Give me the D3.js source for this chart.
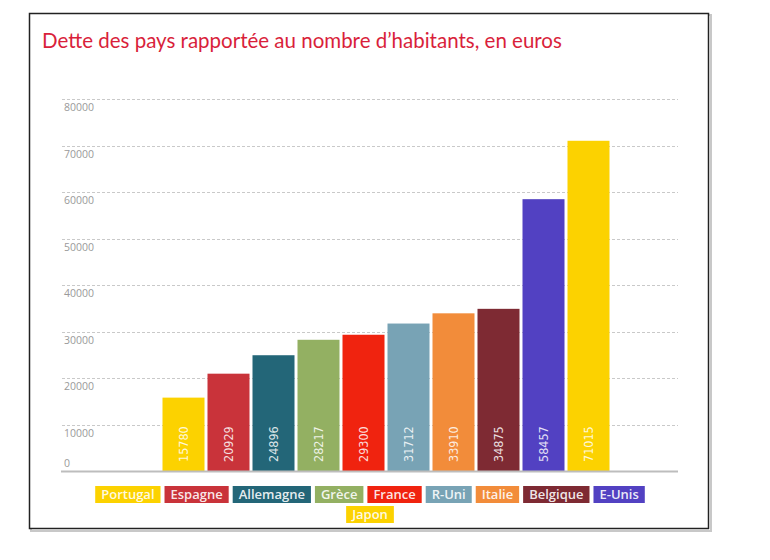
<!DOCTYPE html>
<html>
<head>
<meta charset="utf-8">
<script src="https://cdn.jsdelivr.net/npm/d3@7"></script>
<style>
  body { margin: 0; background: #fff; }
  svg { display: block; }
</style>
</head>
<body>
<svg id="chart" width="770" height="560"></svg>
<script>
// data
const countries = ['Portugal', 'Espagne', 'Allemagne', 'Grèce', 'France', 'R-Uni', 'Italie', 'Belgique', 'E-Unis', 'Japon'];
const debtPerHead = [15780, 20929, 24896, 28217, 29300, 31712, 33910, 34875, 58457, 71015];
const barColors = ['#fcd200', '#c9333a', '#236678', '#93b062', '#f0230f', '#78a3b5', '#f28c3a', '#7e2a33', '#5241c2', '#fcd200'];
const yTicks = [0, 10000, 20000, 30000, 40000, 50000, 60000, 70000, 80000];
const title = 'Dette des pays rapportée au nombre d\u2019habitants, en euros';

const svg = d3.select('#chart');

const rows = countries.map((c, i) => ({ name: c, value: debtPerHead[i], color: barColors[i] }));

// frame
svg.append('rect')
  .attr('x', 31).attr('y', 15).attr('width', 680).attr('height', 516)
  .attr('fill', 'none').attr('stroke', '#c8c8c8').attr('stroke-width', 2);
svg.append('rect')
  .attr('x', 29.5).attr('y', 13.5).attr('width', 679).attr('height', 515)
  .attr('fill', '#fff').attr('stroke', '#222').attr('stroke-width', 1.5);

svg.append('text')
  .attr('x', 42).attr('y', 48)
  .attr('fill', '#d91f3b')
  .style('font-family', 'Lato, "Open Sans", sans-serif')
  .style('font-size', '20.5px')
  .text(title);

const x = d3.scaleBand()
  .domain(countries)
  .range([161, 611])
  .paddingInner(3 / 45)
  .paddingOuter(1.5 / 45);

const y = d3.scaleLinear()
  .domain([0, 80000])
  .range([471, 99]);

// gridlines
const grid = svg.append('g');
grid.selectAll('line')
  .data(yTicks.filter(d => d > 0))
  .join('line')
  .attr('x1', 62).attr('x2', 678)
  .attr('y1', d => Math.round(y(d)) + 0.5)
  .attr('y2', d => Math.round(y(d)) + 0.5)
  .attr('stroke', '#c9c9c9')
  .attr('stroke-dasharray', '3,2');

grid.selectAll('text')
  .data(yTicks)
  .join('text')
  .attr('x', 64)
  .attr('y', d => d === 0 ? y(d) - 4 : y(d) + 12)
  .attr('fill', '#9a9a9a')
  .style('font-family', '"Open Sans", sans-serif')
  .style('font-size', '10.5px')
  .text(d => d);

// bars
svg.append('g')
  .selectAll('rect')
  .data(rows)
  .join('rect')
  .attr('x', d => x(d.name))
  .attr('y', d => y(d.value))
  .attr('width', x.bandwidth())
  .attr('height', d => y(0) - y(d.value))
  .attr('fill', d => d.color);

// value labels, rotated
svg.append('g')
  .selectAll('text')
  .data(rows)
  .join('text')
  .attr('transform', d => `translate(${x(d.name) + x.bandwidth() / 2 + 4},${y(0) - 9}) rotate(-90)`)
  .attr('fill', '#fff')
  .attr('fill-opacity', 0.85)
  .style('font-family', '"Liberation Sans Narrow", "DejaVu Sans Condensed", sans-serif')
  .style('font-size', '12.5px')
  .text(d => d.value);

// baseline
svg.append('line')
  .attr('x1', 61).attr('x2', 678)
  .attr('y1', y(0) + 0.5).attr('y2', y(0) + 0.5)
  .attr('stroke', '#bdbdbd').attr('stroke-width', 2);

// legend, centred flow layout
const legend = svg.append('g');
const pad = 6, gap = 4, boxH = 17, rowGap = 3, maxW = 560, legCx = 370, legTop = 486;
const items = legend.selectAll('g')
  .data(rows)
  .join('g');
items.append('rect')
  .attr('height', boxH)
  .attr('fill', d => d.color);
items.append('text')
  .attr('x', pad)
  .attr('y', 13)
  .attr('fill', '#fff')
  .attr('fill-opacity', 0.9)
  .style('font-family', '"Open Sans", sans-serif')
  .style('font-size', '13px')
  .style('font-weight', '600')
  .text(d => d.name);

const widths = [];
items.each(function(d) {
  widths.push(d3.select(this).select('text').node().getComputedTextLength() + 2 * pad);
});
const lines = [[]];
let run = 0;
widths.forEach((w, i) => {
  if (run + w > maxW && lines[lines.length - 1].length) {
    lines.push([]);
    run = 0;
  }
  lines[lines.length - 1].push(i);
  run += w + gap;
});
lines.forEach((idx, r) => {
  const total = d3.sum(idx, i => widths[i]) + gap * (idx.length - 1);
  let left = legCx - total / 2;
  idx.forEach(i => {
    const g = d3.select(items.nodes()[i]);
    g.attr('transform', `translate(${left},${legTop + r * (boxH + rowGap)})`);
    g.select('rect').attr('width', widths[i]);
    left += widths[i] + gap;
  });
});
</script>
</body>
</html>
